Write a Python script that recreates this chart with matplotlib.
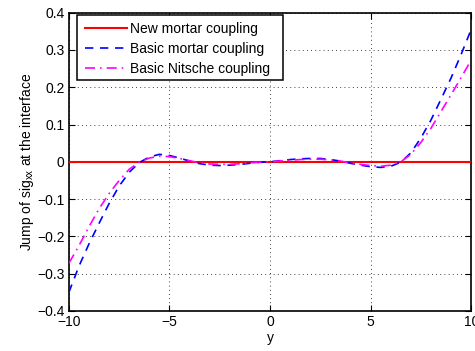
import numpy as np
import matplotlib
matplotlib.use("Agg")
import matplotlib.pyplot as plt
from matplotlib.patches import Rectangle

plt.rcParams['font.family'] = ['Liberation Sans', 'DejaVu Sans']

y = [-10, -9.5, -9, -8.5, -8, -7.5, -7, -6.5, -6, -5.5, -5, -4.5, -4, -3.5, -3,
     -2.5, -2, -1.5, -1, -0.5, 0, 0.5, 1, 1.5, 2, 2.5, 3, 3.5, 4, 4.5, 5, 5.5,
     6, 6.5, 7, 7.5, 8, 8.5, 9, 9.5, 10]
new_mortar = [0.0] * len(y)
basic_mortar = [-0.350, -0.280, -0.220, -0.165, -0.112, -0.065, -0.028, -0.002, 0.013,
                0.020, 0.017, 0.010, 0.002, -0.005, -0.009, -0.010, -0.009, -0.007,
                -0.004, -0.001, 0.000, 0.003, 0.006, 0.008, 0.009, 0.009, 0.006, 0.002,
                -0.004, -0.009, -0.013, -0.015, -0.012, -0.001, 0.024, 0.064, 0.112,
                0.168, 0.225, 0.288, 0.355]
basic_nitsche = [-0.272, -0.225, -0.174, -0.126, -0.085, -0.050, -0.020, -0.001, 0.010,
                 0.015, 0.014, 0.009, 0.003, -0.003, -0.006, -0.007, -0.007, -0.005,
                 -0.003, -0.001, 0.000, 0.002, 0.004, 0.006, 0.007, 0.007, 0.005, 0.002,
                 -0.003, -0.007, -0.010, -0.012, -0.009, 0.000, 0.020, 0.052, 0.090,
                 0.135, 0.180, 0.226, 0.273]

fig = plt.figure(figsize=(4.75, 3.51), dpi=100)
ax = fig.add_axes([0.145, 0.114, 0.847, 0.850])

ax.plot(y, new_mortar, color='#ff0000', lw=1.5, label='New mortar coupling', zorder=3)
ax.plot(y, basic_mortar, color='#0000ff', lw=1.2, ls=(0, (5, 4)), label='Basic mortar coupling', zorder=3)
ax.plot(y, basic_nitsche, color='#ff00ff', lw=1.2, ls=(0, (6, 3, 1, 3)), label='Basic Nitsche coupling', zorder=3)

ax.set_xlim(-10, 10)
ax.set_ylim(-0.4, 0.4)
ax.set_xticks([-10, -5, 0, 5, 10])
ax.set_xticklabels(['\u221210', '\u22125', '0', '5', '10'])
yt = [-0.4, -0.3, -0.2, -0.1, 0, 0.1, 0.2, 0.3, 0.4]
ax.set_yticks(yt)
ax.set_yticklabels(['\u22120.4', '\u22120.3', '\u22120.2', '\u22120.1', '0', '0.1', '0.2', '0.3', '0.4'])
ax.grid(True, color='black', ls=(0, (1, 4)), lw=0.6)
ax.tick_params(direction='in', top=True, right=True, labelsize=10, length=4, width=0.8, pad=3)
for s in ax.spines.values():
    s.set_linewidth(1.2)

ax.set_xlabel('y', fontsize=10, labelpad=1)
ax.set_ylabel('Jump of sig$_{\\mathregular{xx}}$ at the interface', fontsize=10, labelpad=1)

# legend frame (MATLAB-style, extra right padding)
frame = Rectangle((0.0199, 0.774), 0.512, 0.2176, transform=ax.transAxes,
                  facecolor='white', edgecolor='black', lw=1.1, zorder=4)
ax.add_patch(frame)
leg = ax.legend(loc='upper left', fontsize=10, frameon=False,
                borderpad=0.0, labelspacing=0.43, handlelength=3.0, handletextpad=0.25,
                bbox_to_anchor=(0.0398, 0.970), borderaxespad=0.0)
leg.set_zorder(5)

fig.savefig('out.png', dpi=100)
